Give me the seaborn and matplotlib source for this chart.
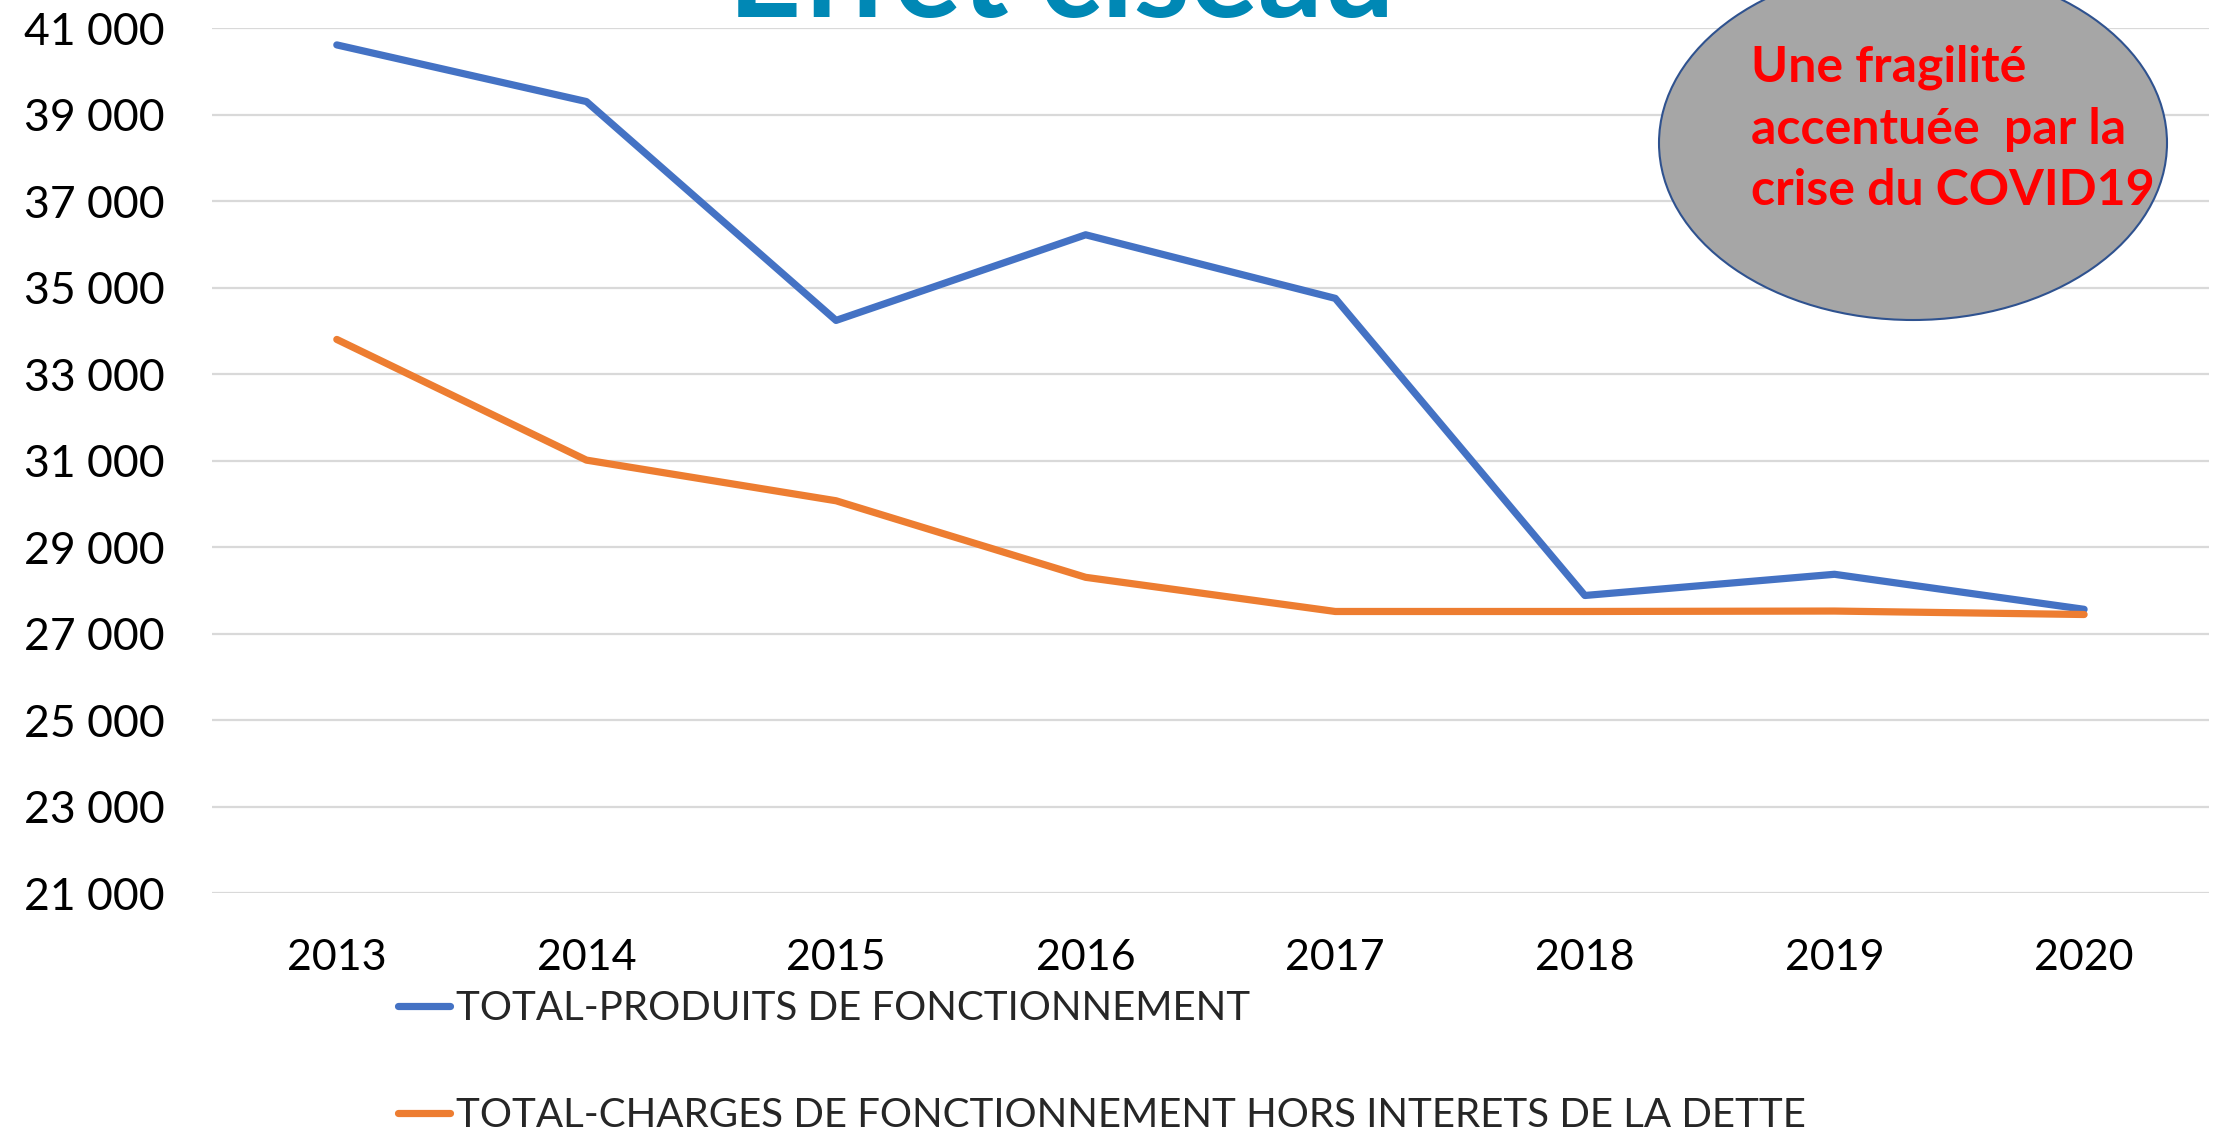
import pandas as pd
import seaborn as sns
import matplotlib.pyplot as plt
from matplotlib.patches import Ellipse

# --- data ---
years = [2013, 2014, 2015, 2016, 2017, 2018, 2019, 2020]
produits = [40610, 39300, 34240, 36220, 34750, 27880, 28370, 27560]
charges = [33800, 31010, 30070, 28300, 27510, 27510, 27520, 27440]
label_produits = "TOTAL-PRODUITS DE FONCTIONNEMENT"
label_charges = "TOTAL-CHARGES DE FONCTIONNEMENT HORS INTERETS DE LA DETTE"
y_ticks = list(range(21000, 41001, 2000))
title_text = "Effet ciseau"
note_text = "Une fragilité\naccentuée  par la\ncrise du COVID19"

df = pd.DataFrame({
    "annee": years * 2,
    "montant": produits + charges,
    "serie": [label_produits] * len(years) + [label_charges] * len(years),
})

sns.set_style("white")
plt.rcParams['font.family'] = ['Lato', 'DejaVu Sans']

fig = plt.figure(figsize=(22.2, 11.31), dpi=100)
ax = fig.add_axes([0.0955, 0.2104, 0.9995 - 0.0955 - 0.0045, 0.9752 - 0.2104])

sns.lineplot(data=df, x="annee", y="montant", hue="serie",
             palette=["#4472C4", "#ED7D31"], linewidth=5.2, ax=ax,
             solid_capstyle="round", solid_joinstyle="round", legend=True)

ax.set_xlim(2012.5, 2020.5)
ax.set_ylim(21000, 41000)
ax.set_xticks(years)
ax.set_xticklabels([str(y) for y in years])
ax.set_yticks(y_ticks)
ax.set_yticklabels([f"{v:,}".replace(",", " ") for v in y_ticks])
ax.yaxis.grid(True, color="#D9D9D9", linewidth=1.6)
ax.set_axisbelow(True)
for s in ax.spines.values():
    s.set_visible(False)
ax.tick_params(axis="both", length=0, colors="black")
ax.tick_params(axis="x", pad=33, labelsize=31)
ax.tick_params(axis="y", pad=34, labelsize=32)
ax.set_xlabel("")
ax.set_ylabel("")

# legend below the plot, stacked
handles, labels = ax.get_legend_handles_labels()
ax.legend_.remove()
leg = fig.legend(handles, labels, loc="upper left", bbox_to_anchor=(0.172, 0.139),
                 frameon=False, fontsize=29, handlelength=1.3, handletextpad=0.15,
                 labelspacing=1.74, borderaxespad=0)
for h in leg.legend_handles:
    h.set_linewidth(5.2)

# title, cut off at the top of the image
fig.text(0.478, 0.985, title_text, ha="center", va="baseline",
         fontsize=92, fontweight="bold", color="#0088B5")

# grey ellipse with red note
ell = Ellipse((1913 / 2220, 1 - 143 / 1131), 508 / 2220, 354 / 1131,
              transform=fig.transFigure, facecolor="#A6A6A6",
              edgecolor="#2F528F", linewidth=1.5, zorder=5)
fig.add_artist(ell)
fig.text(1751 / 2220, 1 - 129 / 1131, note_text, ha="left", va="center",
         fontsize=36, fontweight="bold", color="#FF0000",
         linespacing=1.45, zorder=6, transform=fig.transFigure)

fig.savefig("out.png", dpi=100)
